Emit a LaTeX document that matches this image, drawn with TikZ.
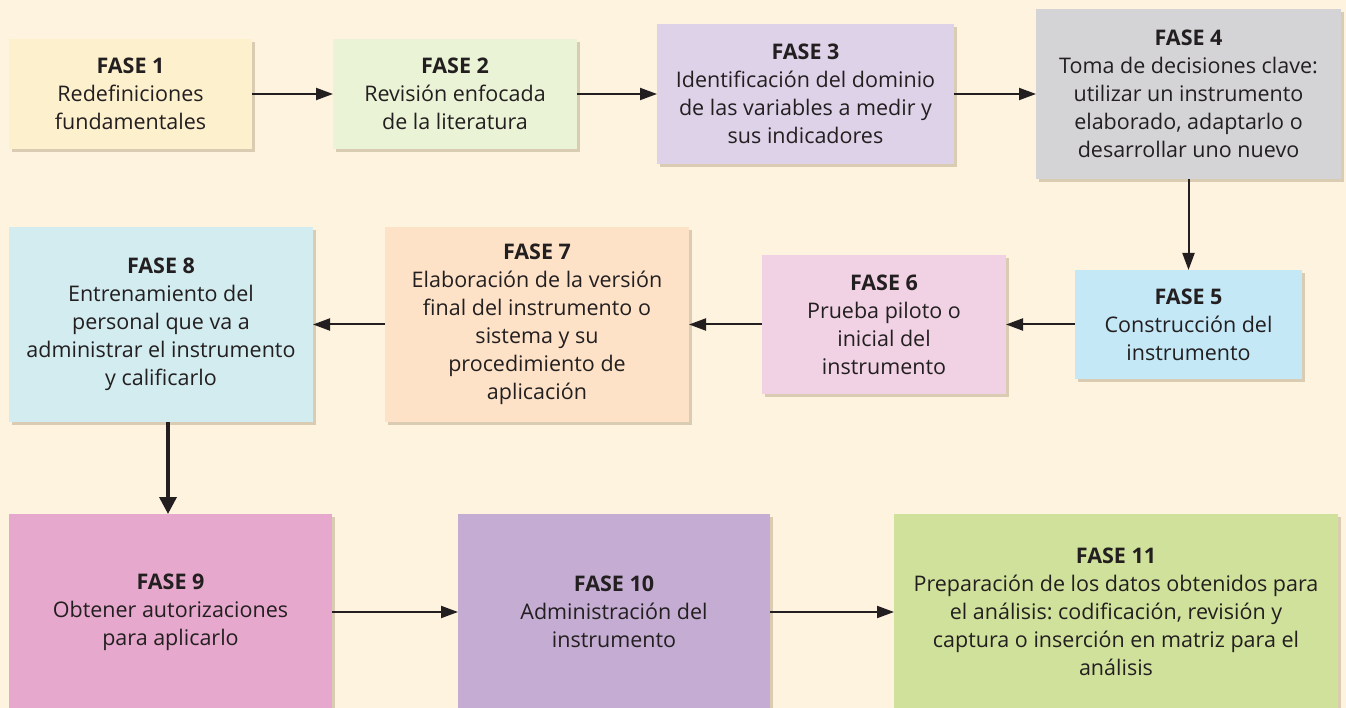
\documentclass[tikz,border=0pt]{standalone}
\usepackage{fontspec}
\setmainfont{Open Sans}
\usetikzlibrary{arrows.meta,shadows}
\definecolor{bg}{HTML}{FEF3DE}
\definecolor{txt}{HTML}{231F20}
\definecolor{c1}{HTML}{FDF0CD}
\definecolor{c2}{HTML}{EAF3D6}
\definecolor{c3}{HTML}{DDD2E8}
\definecolor{c4}{HTML}{D4D4D6}
\definecolor{c5}{HTML}{C5E8F7}
\definecolor{c6}{HTML}{F1D2E4}
\definecolor{c7}{HTML}{FDE2C8}
\definecolor{c8}{HTML}{D2ECF0}
\definecolor{c9}{HTML}{E6A8CC}
\definecolor{c10}{HTML}{C4ACD2}
\definecolor{c11}{HTML}{CFE19A}
\definecolor{shd}{HTML}{8A7450}
\frenchspacing
\tikzset{
  phase/.style={rectangle, inner sep=0pt, outer sep=0pt, align=center, text=txt,
    font=\fontsize{21.5}{28}\selectfont,
    drop shadow={shadow xshift=3pt, shadow yshift=-3pt, opacity=0.3, fill=shd}},
  flow/.style={draw=txt, line width=2pt, -{Triangle[length=17pt,width=12pt]}},
  flowthick/.style={draw=txt, line width=3.5pt, -{Triangle[length=17pt,width=17pt]}}
}
\begin{document}
\begin{tikzpicture}[x=1pt,y=-1pt]
\useasboundingbox (0,0) rectangle (1346,708);
\fill[bg] (0,0) rectangle (1346,708);
\node[phase, fill=c1, minimum width=243pt, minimum height=110pt] (f1) at (130.5,94)
  {\textbf{FASE 1}\\Redefiniciones\\fundamentales};
\node[phase, fill=c2, minimum width=244pt, minimum height=110pt] (f2) at (455,94)
  {\textbf{FASE 2}\\Revisión enfocada\\de la literatura};
\node[phase, fill=c3, minimum width=297pt, minimum height=140pt] (f3) at (805.5,94)
  {\textbf{FASE 3}\\Identificación del dominio\\de las variables a medir y\\sus indicadores};
\node[phase, fill=c4, minimum width=305pt, minimum height=170pt] (f4) at (1188.5,94)
  {\textbf{FASE 4}\\Toma de decisiones clave:\\utilizar un instrumento\\elaborado, adaptarlo o\\desarrollar uno nuevo};
\node[phase, fill=c5, minimum width=227pt, minimum height=109pt] (f5) at (1188.5,324.5)
  {\textbf{FASE 5}\\Construcción del\\instrumento};
\node[phase, fill=c6, minimum width=244pt, minimum height=139pt] (f6) at (884,324.5)
  {\textbf{FASE 6}\\Prueba piloto o\\inicial del\\instrumento};
\node[phase, fill=c7, minimum width=304pt, minimum height=195pt] (f7) at (537,324.5)
  {\textbf{FASE 7}\\Elaboración de la versión\\final del instrumento o\\sistema y su\\procedimiento de\\aplicación};
\node[phase, fill=c8, minimum width=304pt, minimum height=195pt] (f8) at (161,324.5)
  {\textbf{FASE 8}\\Entrenamiento del\\personal que va a\\administrar el instrumento\\y calificarlo};
\node[phase, fill=c9, minimum width=323pt, minimum height=196pt] (f9) at (170.5,612)
  {\textbf{FASE 9}\\Obtener autorizaciones\\para aplicarlo};
\node[phase, fill=c10, minimum width=312pt, minimum height=196pt] (f10) at (614,612)
  {\textbf{FASE 10}\\Administración del\\instrumento};
\node[phase, fill=c11, minimum width=444pt, minimum height=196pt] (f11) at (1116,612)
  {\textbf{FASE 11}\\Preparación de los datos obtenidos para\\el análisis: codificación, revisión y\\captura o inserción en matriz para el\\análisis};
\coordinate (v89) at (168,0);
\draw[flow] (f1.east) -- (f2.west);
\draw[flow] (f2.east) -- (f3.west);
\draw[flow] (f3.east) -- (f4.west);
\draw[flow] (f4.south) -- (f5.north);
\draw[flow] (f5.west) -- (f6.east);
\draw[flow] (f6.west) -- (f7.east);
\draw[flow] (f7.west) -- (f8.east);
\draw[flowthick] (v89 |- f8.south) -- (v89 |- f9.north);
\draw[flow] (f9.east) -- (f10.west);
\draw[flow] (f10.east) -- (f11.west);
\end{tikzpicture}
\end{document}
